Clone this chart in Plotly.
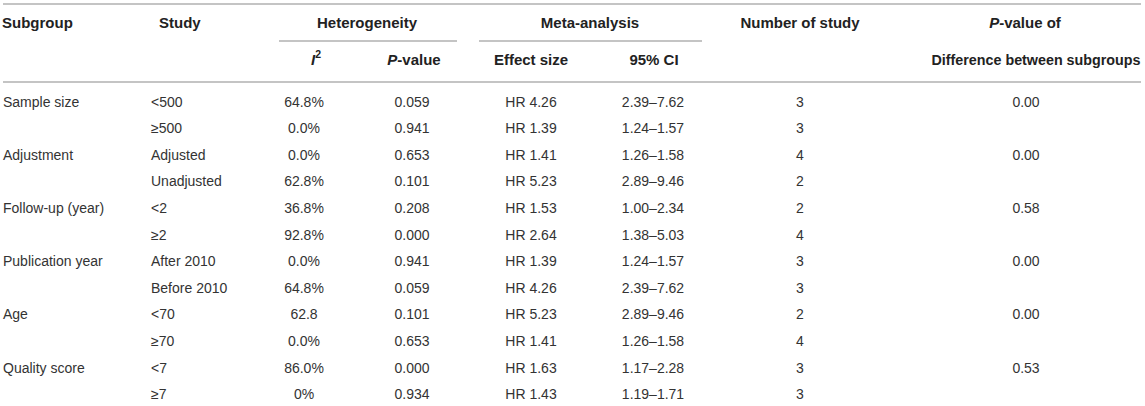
# imports
import plotly.graph_objects as go

# data
subgroup = ["Sample size", "", "Adjustment", "", "Follow-up (year)", "", "Publication year", "", "Age", "", "Quality score", ""]
study = ["<500", "≥500", "Adjusted", "Unadjusted", "<2", "≥2", "After 2010", "Before 2010", "<70", "≥70", "<7", "≥7"]
i2 = ["64.8%", "0.0%", "0.0%", "62.8%", "36.8%", "92.8%", "0.0%", "64.8%", "62.8", "0.0%", "86.0%", "0%"]
p_het = ["0.059", "0.941", "0.653", "0.101", "0.208", "0.000", "0.941", "0.059", "0.101", "0.653", "0.000", "0.934"]
effect = ["HR 4.26", "HR 1.39", "HR 1.41", "HR 5.23", "HR 1.53", "HR 2.64", "HR 1.39", "HR 4.26", "HR 5.23", "HR 1.41", "HR 1.63", "HR 1.43"]
ci = ["2.39–7.62", "1.24–1.57", "1.26–1.58", "2.89–9.46", "1.00–2.34", "1.38–5.03", "1.24–1.57", "2.39–7.62", "2.89–9.46", "1.26–1.58", "1.17–2.28", "1.19–1.71"]
n_study = ["3", "3", "4", "2", "2", "4", "3", "3", "2", "4", "3", "3"]
p_diff = ["0.00", "", "0.00", "", "0.58", "", "0.00", "", "0.00", "", "0.53", ""]

# headers
head1 = ["Subgroup", "Study", "Heterogeneity", "Meta-analysis", "Number of study", "<i>P</i>-value of"]
head2 = ["<i>I</i><sup>2</sup>", "<i>P</i>-value", "Effect size", "95% CI", "Difference between subgroups"]

FONT = "Liberation Sans, Arial, sans-serif"
TXT = "#333333"
HEAD = "#222222"
LINE = "#c4c4c4"

# row positions (pixels, top down)
row_y = [103 + 26.6 * i for i in range(len(study))]

fig = go.Figure()

def col(values, x, pos, color=TXT):
    fig.add_trace(go.Scatter(x=[x] * len(values), y=row_y, mode="text", text=values,
                             textposition=pos, hoverinfo="skip", cliponaxis=False,
                             textfont=dict(family=FONT, size=14, color=color)))

col(subgroup, 3, "middle right")
col(study, 151, "middle right")
col(i2, 304, "middle center")
col(p_het, 412, "middle center")
col(effect, 531, "middle center")
col(ci, 653, "middle center")
col(n_study, 800, "middle center")
col(p_diff, 1026, "middle center")

# header rows
fig.add_trace(go.Scatter(x=[2, 159, 367, 590, 800, 1025], y=[24] * 6, mode="text",
                         text=["<b>%s</b>" % h for h in head1],
                         textposition=["middle right", "middle right"] + ["middle center"] * 4,
                         hoverinfo="skip", cliponaxis=False,
                         textfont=dict(family=FONT, size=15, color=HEAD)))
fig.add_trace(go.Scatter(x=[316, 414, 531, 654, 1036], y=[61] * 5, mode="text",
                         text=["<b>%s</b>" % h for h in head2],
                         textposition="middle center", hoverinfo="skip", cliponaxis=False,
                         textfont=dict(family=FONT, size=[15, 15, 15, 15, 14.3], color=HEAD)))

# rules
for x0, x1, y in [(3, 1141, 4), (279, 457, 41), (479, 702, 41), (3, 1141, 82)]:
    fig.add_shape(type="line", x0=x0, x1=x1, y0=y, y1=y, line=dict(color=LINE, width=2))

fig.update_layout(width=1145, height=406, margin=dict(l=0, r=0, t=0, b=0),
                  paper_bgcolor="white", plot_bgcolor="white", showlegend=False,
                  xaxis=dict(range=[0, 1145], visible=False, fixedrange=True),
                  yaxis=dict(range=[406, 0], visible=False, fixedrange=True))

# make html file (drop the default 8px body margin so the table sits at the page corner)
fig.write_html("out.html", config={"displayModeBar": False},
               post_script="document.body.style.margin='0px';")
